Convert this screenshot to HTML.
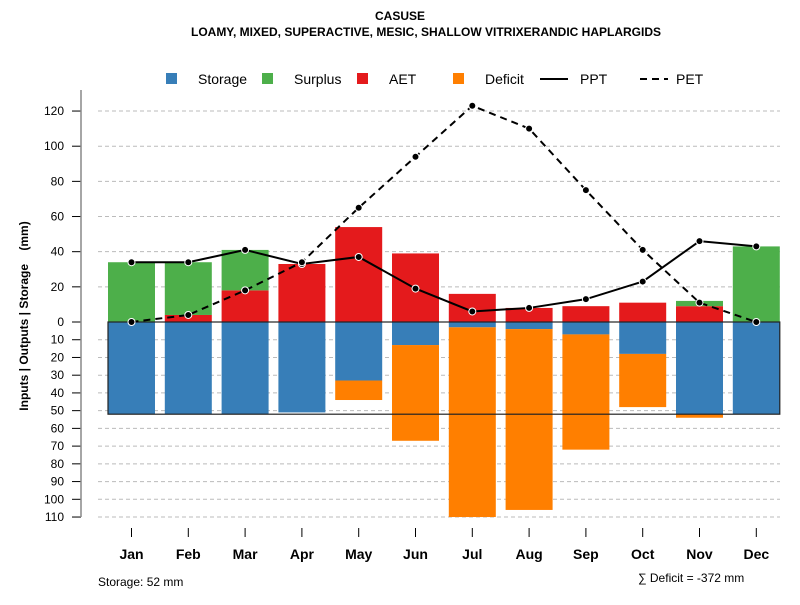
<!DOCTYPE html>
<html><head><meta charset="utf-8"><style>
body{margin:0;background:#fff}
svg text{font-family:"Liberation Sans",sans-serif}
</style></head><body>
<svg id="c" width="800" height="600" xmlns="http://www.w3.org/2000/svg">
<text x="400" y="20" text-anchor="middle" font-size="12" font-weight="bold">CASUSE</text>
<text x="426" y="36" text-anchor="middle" font-size="12" font-weight="bold">LOAMY, MIXED, SUPERACTIVE, MESIC, SHALLOW VITRIXERANDIC HAPLARGIDS</text>
<g id="grid"></g><g id="bars"></g><g id="lines"></g><g id="axes"></g>
<g font-size="14">
<rect x="166" y="73" width="11" height="11" fill="#377eb8"/><text x="198" y="84">Storage</text>
<rect x="262" y="73" width="11" height="11" fill="#4daf4a"/><text x="294" y="84">Surplus</text>
<rect x="357" y="73" width="11" height="11" fill="#e41a1c"/><text x="389" y="84">AET</text>
<rect x="453" y="73" width="11" height="11" fill="#ff7f00"/><text x="485" y="84">Deficit</text>
<line x1="540" y1="79" x2="568" y2="79" stroke="#000" stroke-width="2"/><text x="580" y="84">PPT</text>
<line x1="640" y1="79" x2="668" y2="79" stroke="#000" stroke-width="2" stroke-dasharray="7,5"/><text x="676" y="84">PET</text>
</g>
<text x="28" y="316" transform="rotate(-90 28 316)" text-anchor="middle" font-size="12" font-weight="bold" style="white-space:pre">Inputs | Outputs | Storage    (mm)</text>
<text x="98" y="586" font-size="12">Storage: 52 mm</text>
<text x="638" y="582" font-size="12">∑ Deficit = -372 mm</text>
</svg>
<script>
const months=["Jan","Feb","Mar","Apr","May","Jun","Jul","Aug","Sep","Oct","Nov","Dec"];
const storage=[52,52,52,51,33,13,3,4,7,18,52,52];
const deficit=[0,0,0,0,11,54,107,102,65,30,2,0];
const aet=[0,4,18,33,54,39,16,8,9,11,9,0];
const surplus=[34,30,23,0,0,0,0,0,0,0,3,43];
const ppt=[34,34,41,33,37,19,6,8,13,23,46,43];
const pet=[0,4,18,34,65,94,123,110,75,41,11,0];
const upTicks=[0,20,40,60,80,100,120];
const downTicks=[10,20,30,40,50,60,70,80,90,100,110];
const capacity=52;
const NS="http://www.w3.org/2000/svg";
const y0=322;
const yUp=v=>y0-v*1.758;
const yDn=v=>y0+v*1.773;
const xC=i=>131.5+i*56.8;
const bw=47;
function mk(tag,attrs,parent){const e=document.createElementNS(NS,tag);for(const k in attrs)e.setAttribute(k,attrs[k]);document.getElementById(parent).appendChild(e);return e;}
upTicks.forEach(v=>{
 if(v>0){const g=mk("line",{x1:98,x2:780,y1:yUp(v),y2:yUp(v),stroke:"#bbb","stroke-dasharray":"4,3"},"grid");
 
 }
 const t=mk("line",{x1:72,x2:81,y1:yUp(v),y2:yUp(v),stroke:"#000"},"axes");
 
 
 const l=mk("text",{x:64,y:yUp(v)+4,"text-anchor":"end","font-size":12},"axes");l.textContent=v;
 
 
});
downTicks.forEach(v=>{
 const g=mk("line",{x1:98,x2:780,y1:yDn(v),y2:yDn(v),stroke:"#bbb","stroke-dasharray":"4,3"},"grid");
 
 
 const t=mk("line",{x1:72,x2:81,y1:yDn(v),y2:yDn(v),stroke:"#000"},"axes");
 
 
 const l=mk("text",{x:64,y:yDn(v)+4,"text-anchor":"end","font-size":12},"axes");l.textContent=v;
 
 
});
const ax=mk("line",{x1:81,x2:81,y1:90,y2:yDn(110),stroke:"#888","stroke-width":1.5},"axes");


months.forEach((m,i)=>{
 const x=xC(i)-bw/2;
 const r=(y1,y2,col,name)=>{if(Math.abs(y2-y1)<0.1)return;const e=mk("rect",{x:x,y:Math.min(y1,y2),width:bw,height:Math.abs(y2-y1),fill:col},"bars");
  
  };
 r(y0,yDn(storage[i]),"#377eb8","bar-storage-"+m.toLowerCase());
 r(yDn(storage[i]),yDn(storage[i]+deficit[i]),"#ff7f00","bar-deficit-"+m.toLowerCase());
 r(y0,yUp(aet[i]),"#e41a1c","bar-aet-"+m.toLowerCase());
 r(yUp(aet[i]),yUp(aet[i]+surplus[i]),"#4daf4a","bar-surplus-"+m.toLowerCase());
 const t=mk("line",{x1:xC(i),x2:xC(i),y1:528,y2:537,stroke:"#000"},"axes");
 
 
 const l=mk("text",{x:xC(i),y:559,"text-anchor":"middle","font-size":14,"font-weight":"bold"},"axes");l.textContent=m;
 
 
});
const box=mk("rect",{x:xC(0)-bw/2,y:y0,width:xC(11)+bw/2-(xC(0)-bw/2),height:yDn(capacity)-y0,fill:"none",stroke:"#222","stroke-width":1.2},"bars");


function series(vals,dash,name){
 const p=mk("polyline",{points:vals.map((v,i)=>xC(i)+","+yUp(v)).join(" "),fill:"none",stroke:"#000","stroke-width":2,"stroke-dasharray":dash},"lines");
 
 
 vals.forEach((v,i)=>{const c=mk("circle",{cx:xC(i),cy:yUp(v),r:3.5,fill:"#000",stroke:"#fff","stroke-width":1},"lines");
  
  });
}
series(ppt,"none","ppt");
series(pet,"7,5","pet");
</script>
</body></html>
